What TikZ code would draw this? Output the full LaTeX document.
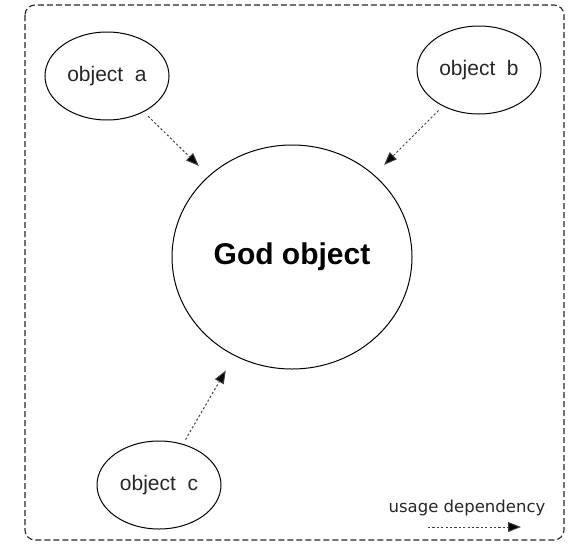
\documentclass[tikz,border=0pt]{standalone}
\usepackage{fontspec}
\setmainfont{Liberation Sans}
\newfontfamily\legendfont{DejaVu Sans}
\usetikzlibrary{shapes.geometric,arrows.meta}
\begin{document}
\begin{tikzpicture}[x=1pt,y=-1pt,
  obj/.style={draw, line width=1pt, ellipse, inner sep=0pt,
    minimum width=124pt, minimum height=88pt, text=black!85,
    font=\fontsize{21}{24}\selectfont},
  god/.style={draw, line width=1pt, ellipse, inner sep=0pt,
    minimum width=240pt, minimum height=224pt,
    font=\fontsize{30}{36}\selectfont\bfseries},
  dep/.style={line width=1pt, black!75, dash pattern=on 2.2pt off 2.2pt,
    -{Triangle[length=13pt,width=10pt,fill=black]}},
  frame/.style={line width=1.1pt, black!85, dash pattern=on 6pt off 3pt,
    rounded corners=10pt}]
  \useasboundingbox (0,0) rectangle (569,549);
  % surrounding dashed boundary
  \draw[frame] (25,5) rectangle (564,540);
  % nodes
  \node[god] (god) at (292,257) {God object};
  \node[obj] (a) at (107,76) {object\ \ a};
  \node[obj] (b) at (479,70) {object\ \ b};
  \node[obj] (c) at (159,485) {object\ \ c};
  % usage dependencies
  \draw[dep, shorten <=6pt, shorten >=14pt] (a) -- (god);
  \draw[dep, shorten <=6pt, shorten >=14pt] (b) -- (god);
  \draw[dep, shorten <=5pt, shorten >=17pt] (c) -- (god);
  % legend
  \node[font=\legendfont\fontsize{16.5}{20}\selectfont, text=black!85] (legend) at (467,508) {usage dependency};
  \coordinate (l1) at (428,527);
  \coordinate (l2) at (521,527);
  \draw[dep] (l1) -- (l2);
\end{tikzpicture}
\end{document}
